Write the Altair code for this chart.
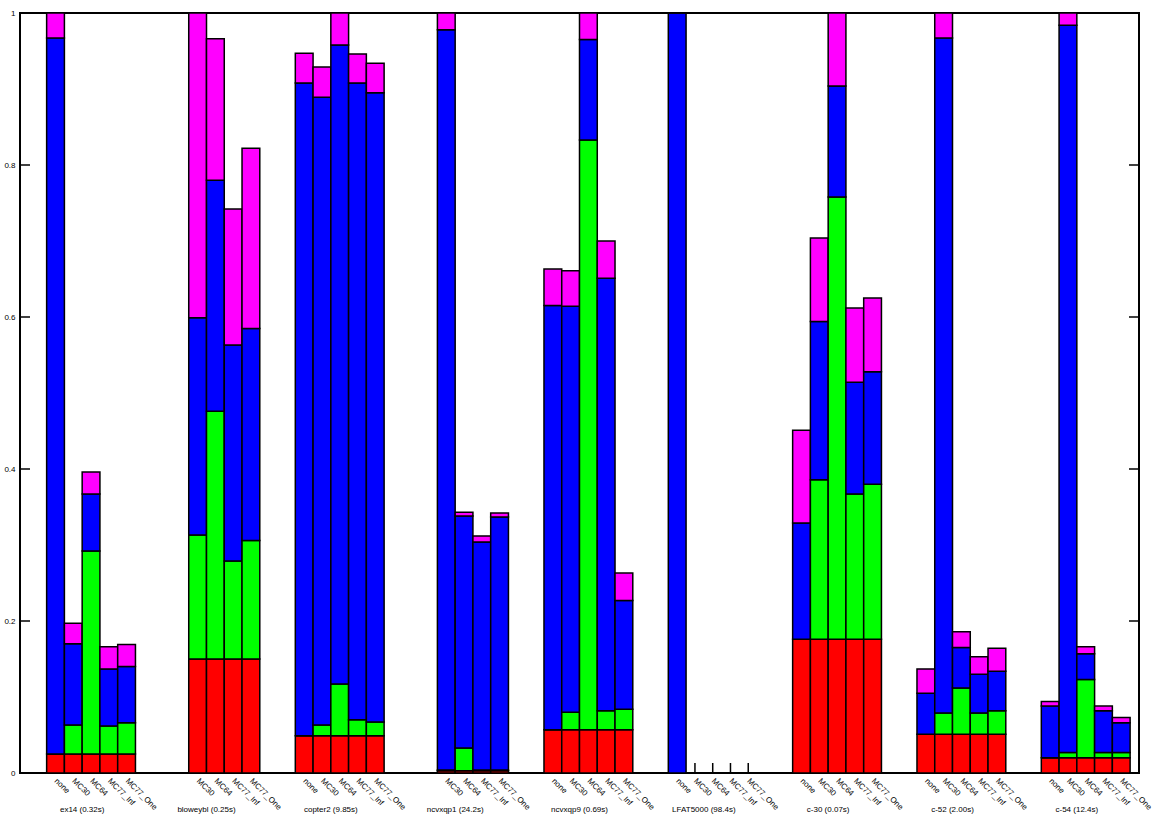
import altair as alt
import pandas as pd

# Matrices (with analysis time) and the ordering variants run on each
groups = ["ex14 (0.32s)", "bloweybl (0.25s)", "copter2 (9.85s)", "ncvxqp1 (24.2s)",
          "ncvxqp9 (0.69s)", "LFAT5000 (98.4s)", "c-30 (0.07s)", "c-52 (2.00s)", "c-54 (12.4s)"]
methods = ["none", "MC30", "MC64", "MC77_Inf", "MC77_One"]

# Cumulative top of each stacked component, 5 bars per matrix (None = not run)
red_top = [
    0.025, 0.025, 0.025, 0.025, 0.025,
    None, 0.150, 0.150, 0.150, 0.150,
    0.049, 0.049, 0.049, 0.049, 0.049,
    None, 0.003, 0.003, 0.003, 0.003,
    0.057, 0.057, 0.057, 0.057, 0.057,
    0.0, 0.0, 0.0, 0.0, 0.0,
    0.176, 0.176, 0.176, 0.176, 0.176,
    0.051, 0.051, 0.051, 0.051, 0.051,
    0.020, 0.020, 0.020, 0.020, 0.020,
]
green_top = [
    0.025, 0.063, 0.292, 0.062, 0.066,
    None, 0.313, 0.476, 0.279, 0.306,
    0.049, 0.063, 0.117, 0.070, 0.067,
    None, 0.004, 0.033, 0.004, 0.004,
    0.057, 0.080, 0.833, 0.082, 0.084,
    0.0, 0.0, 0.0, 0.0, 0.0,
    0.176, 0.386, 0.758, 0.367, 0.380,
    0.051, 0.079, 0.112, 0.079, 0.082,
    0.020, 0.027, 0.123, 0.027, 0.027,
]
blue_top = [
    0.967, 0.170, 0.367, 0.137, 0.140,
    None, 0.599, 0.780, 0.563, 0.585,
    0.908, 0.889, 0.958, 0.908, 0.895,
    None, 0.978, 0.338, 0.304, 0.337,
    0.615, 0.614, 0.965, 0.651, 0.227,
    1.000, 0.0, 0.0, 0.0, 0.0,
    0.329, 0.594, 0.904, 0.514, 0.528,
    0.105, 0.967, 0.165, 0.130, 0.134,
    0.088, 0.984, 0.157, 0.082, 0.066,
]
magenta_top = [
    1.000, 0.197, 0.396, 0.166, 0.169,
    None, 1.000, 0.966, 0.742, 0.822,
    0.947, 0.929, 1.000, 0.946, 0.934,
    None, 1.000, 0.343, 0.312, 0.342,
    0.663, 0.661, 1.000, 0.700, 0.263,
    1.000, 0.0, 0.0, 0.0, 0.0,
    0.451, 0.704, 1.000, 0.612, 0.625,
    0.137, 1.000, 0.186, 0.153, 0.164,
    0.094, 1.000, 0.166, 0.088, 0.073,
]

series = ["red", "green", "blue", "magenta"]
colors = ["#ff0000", "#00ff00", "#0000ff", "#ff00ff"]
tops = [red_top, green_top, blue_top, magenta_top]
y_ticks = [0, 0.2, 0.4, 0.6, 0.8, 1.0]

SLOTS = 7  # 5 bars + 2 empty slots between matrices

seg_rows, bar_rows, grp_rows = [], [], []
for g, gname in enumerate(groups):
    grp_rows.append({"pos": g * SLOTS + 1.5, "label": gname})
    for m, mname in enumerate(methods):
        i = g * 5 + m
        if red_top[i] is None:
            continue
        pos = g * SLOTS + m
        bar_rows.append({"pos": pos, "label": mname})
        lower = 0.0
        for s, top in zip(series, tops):
            seg_rows.append({"x0": pos - 0.5, "x1": pos + 0.5, "y0": lower, "y1": top[i], "part": s})
            lower = top[i]

segs = pd.DataFrame(seg_rows)
bars = pd.DataFrame(bar_rows)
grps = pd.DataFrame(grp_rows)
yt = pd.DataFrame({"v": y_ticks})

W, H = 1119, 760
xscale = alt.Scale(domain=[-2, 61], nice=False, zero=False)
yscale = alt.Scale(domain=[0, 1], nice=False, zero=False)
FONT = "Liberation Sans"

xticks = alt.Chart(bars).mark_rule(color="black", strokeWidth=1.5).encode(
    x=alt.X("pos:Q", scale=xscale, axis=None),
    y=alt.value(H),
    y2=alt.value(H - 10),
)

rects = alt.Chart(segs).mark_rect(stroke="black", strokeWidth=1.5).encode(
    x=alt.X("x0:Q", scale=xscale, axis=None),
    x2="x1:Q",
    y=alt.Y("y0:Q", scale=yscale,
            axis=alt.Axis(values=y_ticks, format="~g", ticks=False, domain=False, grid=False,
                          labelFontSize=8, labelFont=FONT, labelColor="black", labelPadding=5,
                          title=None)),
    y2="y1:Q",
    color=alt.Color("part:N", scale=alt.Scale(domain=series, range=colors), legend=None),
)

ytick_l = alt.Chart(yt).mark_rule(color="black", strokeWidth=1.5).encode(
    y=alt.Y("v:Q", scale=yscale), x=alt.value(0), x2=alt.value(10))
ytick_r = alt.Chart(yt).mark_rule(color="black", strokeWidth=1.5).encode(
    y=alt.Y("v:Q", scale=yscale), x=alt.value(W - 10), x2=alt.value(W))

bar_labels = alt.Chart(bars).mark_text(
    angle=45, align="left", baseline="middle", fontSize=8, font=FONT, color="black"
).encode(x=alt.X("pos:Q", scale=xscale), y=alt.value(H + 7), text="label:N")

grp_labels = alt.Chart(grps).mark_text(
    align="center", baseline="middle", fontSize=8, font=FONT, color="black"
).encode(x=alt.X("pos:Q", scale=xscale), y=alt.value(H + 37), text="label:N")

chart = alt.layer(xticks, rects, ytick_l, ytick_r, bar_labels, grp_labels).properties(
    width=W, height=H,
    autosize=alt.AutoSizeParams(type="none"),
    padding={"left": 20, "top": 13, "right": 17, "bottom": 44},
).configure(background="white").configure_view(stroke="black", strokeWidth=2)

chart.save("out.html", embed_options={"renderer": "svg", "actions": False})
